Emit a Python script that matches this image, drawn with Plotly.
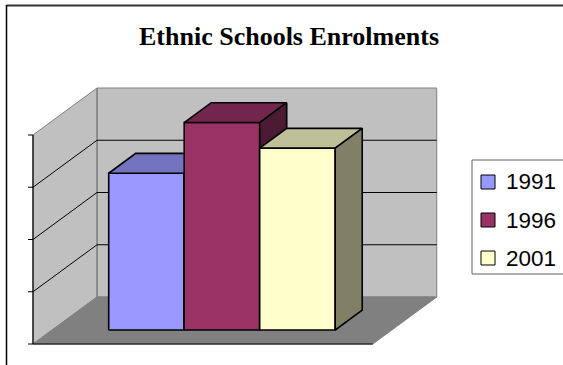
import plotly.graph_objects as go

# ---------------- data ----------------
title_text = "Ethnic Schools Enrolments"
series_names = ["1991", "1996", "2001"]
series_values = [3.0, 3.97, 3.48]
value_ticks = [0, 1, 2, 3, 4]
front_colors = ["#9999FF", "#993366", "#FFFFCC"]
top_colors = ["#7373BF", "#73264D", "#BFBF99"]
side_colors = ["#4D4D80", "#4D1A33", "#808066"]

# ---------------- geometry ----------------
W, H = 563, 365
PX_X = 75.5     # px per category (bar) unit
PX_Y = 52.25    # px per value unit
ORIG_X, ORIG_Y = 33, 344   # pixel of front-left floor corner
floor_w = 4.5
gap = 0.75
depth_dx = 64 / PX_X
depth_dy = 47 / PX_Y
bar_d0, bar_d1 = 0.298, 0.72
vmax = value_ticks[-1]


def P(x, v, d):
    return x + d * depth_dx, v + d * depth_dy


fig = go.Figure()


def poly(pts, fill, line_color, width=1.0, close=True):
    xs, ys = zip(*[P(*p) for p in pts])
    xs, ys = list(xs), list(ys)
    if close:
        xs.append(xs[0]); ys.append(ys[0])
    fig.add_trace(go.Scatter(
        x=xs, y=ys, mode="lines",
        fill="toself" if fill else None,
        fillcolor=fill,
        line=dict(color=line_color, width=width),
        hoverinfo="skip", showlegend=False))


# walls and floor
poly([(0, 0, 1), (floor_w, 0, 1), (floor_w, vmax, 1), (0, vmax, 1)], "#C0C0C0", "#808080")
poly([(0, 0, 0), (0, 0, 1), (0, vmax, 1), (0, vmax, 0)], "#C0C0C0", "#808080")
poly([(0, 0, 0), (floor_w, 0, 0), (floor_w, 0, 1), (0, 0, 1)], "#808080", "#808080")
poly([(0, 0, 1), (0, vmax, 1)], None, "#808080", close=False)

# gridlines
for v in value_ticks[1:-1]:
    poly([(0, v, 0), (0, v, 1), (floor_w, v, 1)], None, "#000000", 1.0, close=False)

# axes
poly([(0, 0, 0), (0, vmax, 0)], None, "#000000", 1.2, close=False)
poly([(0, 0, 0), (floor_w, 0, 0)], None, "#000000", 1.2, close=False)
for v in value_ticks:
    poly([(-5 / PX_X, v, 0), (0, v, 0)], None, "#000000", 1.0, close=False)

# bars
for i, v in enumerate(series_values):
    x0 = gap + i
    x1 = x0 + 1
    poly([(x0, 0, bar_d0), (x1, 0, bar_d0), (x1, v, bar_d0), (x0, v, bar_d0)],
         front_colors[i], "#000000", 1.6)
    poly([(x0, v, bar_d0), (x1, v, bar_d0), (x1, v, bar_d1), (x0, v, bar_d1)],
         top_colors[i], "#000000", 1.6)
    poly([(x1, 0, bar_d0), (x1, 0, bar_d1), (x1, v, bar_d1), (x1, v, bar_d0)],
         side_colors[i], "#000000", 1.6)


def px(xp):
    return xp / W


def py(yp):
    return 1 - yp / H


shapes = []
annotations = []
# outer chart border (top & left visible)
shapes.append(dict(type="line", xref="paper", yref="paper", x0=px(6.5), x1=1.02,
                   y0=py(5.5), y1=py(5.5), line=dict(color="#333333", width=2)))
shapes.append(dict(type="line", xref="paper", yref="paper", x0=px(6.5), x1=px(6.5),
                   y0=py(5), y1=-0.02, line=dict(color="#000000", width=1.5)))
# legend box
shapes.append(dict(type="rect", xref="paper", yref="paper", x0=px(472), x1=1.02,
                   y0=py(274), y1=py(160), line=dict(color="#606060", width=1),
                   fillcolor="#FFFFFF"))
for i, name in enumerate(series_names):
    yc = 182 + 38 * i
    shapes.append(dict(type="rect", xref="paper", yref="paper", x0=px(481), x1=px(495),
                       y0=py(yc + 7), y1=py(yc - 7), line=dict(color="#000000", width=1),
                       fillcolor=front_colors[i]))
    annotations.append(dict(text=name, xref="paper", yref="paper", x=px(504), y=py(yc),
                            xanchor="left", yanchor="middle", showarrow=False,
                            font=dict(family="Liberation Sans", size=22.5, color="#000000")))

annotations.append(dict(text="<b>" + title_text + "</b>", xref="paper", yref="paper",
                        x=px(289), y=py(36), xanchor="center", yanchor="middle",
                        showarrow=False,
                        font=dict(family="Liberation Serif", size=26, color="#000000")))

fig.update_layout(
    width=W, height=H,
    margin=dict(l=0, r=0, t=0, b=0),
    paper_bgcolor="#FFFFFF", plot_bgcolor="#FFFFFF",
    xaxis=dict(range=[-ORIG_X / PX_X, (W - ORIG_X) / PX_X], visible=False, fixedrange=True),
    yaxis=dict(range=[-(H - ORIG_Y) / PX_Y, ORIG_Y / PX_Y], visible=False, fixedrange=True),
    shapes=shapes, annotations=annotations,
)

fig.write_html("out.html")
